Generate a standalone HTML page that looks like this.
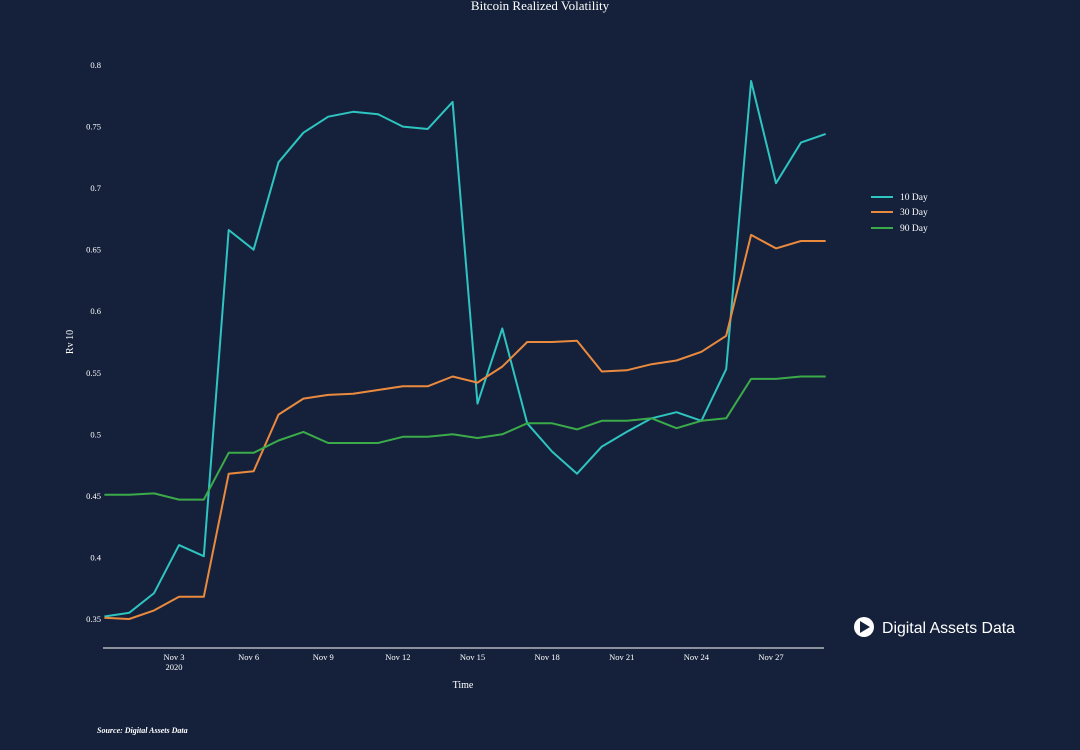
<!DOCTYPE html>
<html><head><meta charset="utf-8"><style>
html,body{margin:0;padding:0;background:#15213b;}
svg{display:block;font-family:"Liberation Serif",serif;}
</style></head><body>
<svg width="1080" height="750" viewBox="0 0 1080 750">
<rect width="1080" height="750" fill="#15213b"/>
<text x="540" y="10" fill="#fff" font-size="13" text-anchor="middle">Bitcoin Realized Volatility</text>
<g id="yticks"></g><g id="xticks"></g><g id="series"></g>
<line x1="103" y1="648" x2="824" y2="648" stroke="#fff" stroke-width="1"/>
<text x="463" y="688" fill="#fff" font-size="10" text-anchor="middle">Time</text>
<text x="73" y="342" fill="#fff" font-size="10" text-anchor="middle" transform="rotate(-90 73 342)">Rv 10</text>
<g>
<g><line x1="871" y1="197" x2="893" y2="197" stroke="#2ec4c0" stroke-width="2"/><text x="900" y="200" fill="#fff" font-size="9.5">10 Day</text></g>
<g><line x1="871" y1="212" x2="893" y2="212" stroke="#ea8a3e" stroke-width="2"/><text x="900" y="215" fill="#fff" font-size="9.5">30 Day</text></g>
<g><line x1="871" y1="228" x2="893" y2="228" stroke="#3bab4a" stroke-width="2"/><text x="900" y="231" fill="#fff" font-size="9.5">90 Day</text></g>
</g>
<g>
<circle cx="864" cy="627" r="10" fill="#fff"/><path d="M860 621 L870 627 L860 633 Z" fill="#15213b"/>
<text x="882" y="633" fill="#fff" font-size="16" textLength="133" lengthAdjust="spacingAndGlyphs" font-family="Liberation Sans, sans-serif">Digital Assets Data</text>
</g>
<text x="97" y="733" fill="#fff" font-size="8" font-style="italic" font-weight="bold">Source: Digital Assets Data</text>
</svg>
<script>
const yTicks=[0.35,0.4,0.45,0.5,0.55,0.6,0.65,0.7,0.75,0.8];
const yTickLabels=["0.35","0.4","0.45","0.5","0.55","0.6","0.65","0.7","0.75","0.8"];
const xTicks=[3,6,9,12,15,18,21,24,27];
const xTickLabels=["Nov 3","Nov 6","Nov 9","Nov 12","Nov 15","Nov 18","Nov 21","Nov 24","Nov 27"];
const days=[0.2,1.2,2.2,3.2,4.2,5.2,6.2,7.2,8.2,9.2,10.2,11.2,12.2,13.2,14.2,15.2,16.2,17.2,18.2,19.2,20.2,21.2,22.2,23.2,24.2,25.2,26.2,27.2,28.2,29.2];
const rv10=[0.352,0.355,0.371,0.41,0.401,0.666,0.65,0.721,0.745,0.758,0.762,0.76,0.75,0.748,0.77,0.525,0.586,0.509,0.486,0.468,0.49,0.502,0.513,0.518,0.511,0.553,0.787,0.704,0.737,0.744];
const rv30=[0.351,0.35,0.357,0.368,0.368,0.468,0.47,0.516,0.529,0.532,0.533,0.536,0.539,0.539,0.547,0.542,0.555,0.575,0.575,0.576,0.551,0.552,0.557,0.56,0.567,0.58,0.662,0.651,0.657,0.657];
const rv90=[0.451,0.451,0.452,0.447,0.447,0.485,0.485,0.495,0.502,0.493,0.493,0.493,0.498,0.498,0.5,0.497,0.5,0.509,0.509,0.504,0.511,0.511,0.513,0.505,0.511,0.513,0.545,0.545,0.547,0.547];
const NS="http://www.w3.org/2000/svg";
function xS(d){return 174+(d-3)*24.875;}
function yS(v){return 619-(v-0.35)*(554/0.45);}
const yg=document.getElementById('yticks');
yTicks.forEach((v,i)=>{const t=document.createElementNS(NS,'text');
t.setAttribute('x',101);t.setAttribute('y',yS(v)+3);t.setAttribute('fill','#fff');t.setAttribute('font-size','8.5');t.setAttribute('text-anchor','end');t.textContent=yTickLabels[i];


yg.appendChild(t);});
const xg=document.getElementById('xticks');
xTicks.forEach((d,i)=>{const t=document.createElementNS(NS,'text');
t.setAttribute('x',xS(d));t.setAttribute('y',660);t.setAttribute('fill','#fff');t.setAttribute('font-size','8.5');t.setAttribute('text-anchor','middle');t.textContent=xTickLabels[i];


xg.appendChild(t);});
const yr=document.createElementNS(NS,'text');
yr.setAttribute('x',xS(3));yr.setAttribute('y',670);yr.setAttribute('fill','#fff');yr.setAttribute('font-size','8.5');yr.setAttribute('text-anchor','middle');yr.textContent='2020';


xg.appendChild(yr);
const sg=document.getElementById('series');
[[rv10,'#2ec4c0','line-10-day'],[rv30,'#ea8a3e','line-30-day'],[rv90,'#3bab4a','line-90-day']].forEach(s=>{
const p=document.createElementNS(NS,'polyline');
p.setAttribute('points',s[0].map((v,i)=>xS(days[i]).toFixed(1)+','+yS(v).toFixed(1)).join(' '));
p.setAttribute('fill','none');p.setAttribute('stroke',s[1]);p.setAttribute('stroke-width','2');p.setAttribute('stroke-linejoin','round');


sg.appendChild(p);});
</script>
</body></html>
